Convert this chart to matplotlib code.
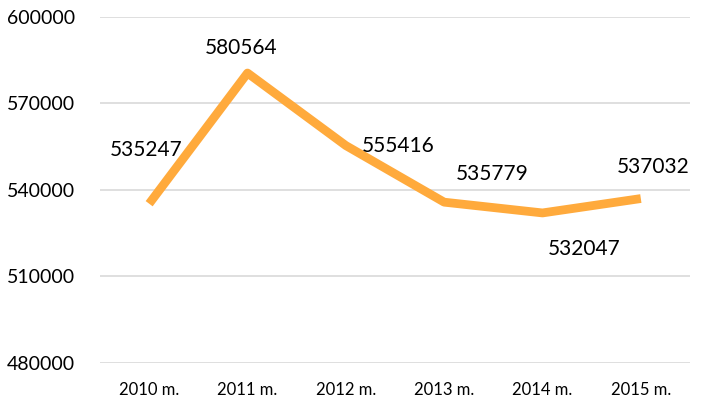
import matplotlib.pyplot as plt

years = ['2010 m.', '2011 m.', '2012 m.', '2013 m.', '2014 m.', '2015 m.']
values = [535247, 580564, 555416, 535779, 532047, 537032]
# label offsets from the point, in pixels (hand-placed in the original)
label_offsets = [(-3, 54), (-6, 25), (52, 0), (48, 28), (42, -36), (12, 32)]
y_ticks = [480000, 510000, 540000, 570000, 600000]

plt.rcParams['font.family'] = ['Lato', 'DejaVu Sans']

fig = plt.figure(figsize=(7.02, 4.05), dpi=100)
ax = fig.add_axes([100 / 702, 1 - 363 / 405, 590 / 702, 346 / 405])

x = list(range(len(years)))
ax.plot(x, values, color='#FFAA3C', linewidth=6.3, solid_capstyle='butt',
        solid_joinstyle='round', zorder=3)

for xi, v, (dx, dy) in zip(x, values, label_offsets):
    ax.annotate(str(v), (xi, v), xytext=(dx, dy), textcoords='offset pixels',
                ha='center', va='center', fontsize=15, color='#000000')

ax.set_xlim(-0.5, len(years) - 0.5)
ax.set_ylim(480000, 600000)
ax.set_yticks(y_ticks)
ax.set_yticklabels([str(t) for t in y_ticks])
ax.set_xticks(x)
ax.set_xticklabels(years)
ax.tick_params(axis='y', length=0, labelsize=14, pad=18, colors='#000000')
ax.tick_params(axis='x', length=0, labelsize=12, pad=14, colors='#000000')
ax.grid(axis='y', color='#d9d9d9', linewidth=1.2)
ax.set_axisbelow(True)
for s in ax.spines.values():
    s.set_visible(False)

fig.savefig('out.png', dpi=100)
